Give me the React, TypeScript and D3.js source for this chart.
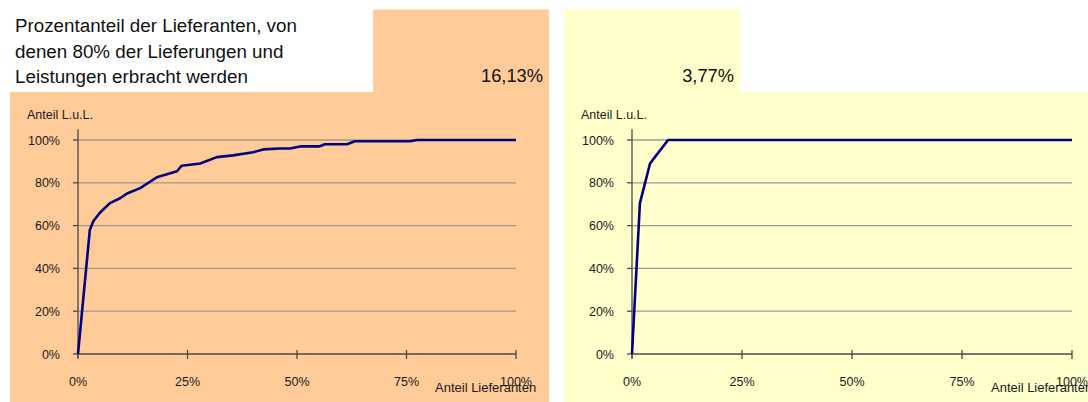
import * as d3 from "d3";

// Anteil Lieferanten (x) / Anteil L.u.L. (y)
const leftX = [0, 0.027, 0.035, 0.05, 0.073, 0.096, 0.112, 0.142, 0.18, 0.226, 0.237, 0.279, 0.317, 0.354, 0.4, 0.423, 0.46, 0.484, 0.507, 0.55, 0.564, 0.614, 0.632, 0.758, 0.774, 1.0];
const leftY = [0, 0.58, 0.62, 0.66, 0.705, 0.728, 0.75, 0.775, 0.826, 0.854, 0.88, 0.89, 0.92, 0.928, 0.943, 0.956, 0.96, 0.96, 0.97, 0.97, 0.98, 0.98, 0.994, 0.994, 1.0, 1.0];
const rightX = [0, 0.018, 0.041, 0.052, 0.082, 1.0];
const rightY = [0, 0.705, 0.89, 0.92, 1.0, 1.0];

const yTicks = [0, 0.2, 0.4, 0.6, 0.8, 1.0];
const xTicks = [0, 0.25, 0.5, 0.75, 1.0];

const titleLines = [
  "Prozentanteil der Lieferanten, von",
  "denen 80% der Lieferungen und",
  "Leistungen erbracht werden",
];
const shares = ["16,13%", "3,77%"];

const FONT = "'Liberation Sans', Arial, sans-serif";
const fmt = d3.format(".0%");

function Chart({ xs, ys, x0, x1 }: { xs: number[]; ys: number[]; x0: number; x1: number }) {
  const x = d3.scaleLinear().domain([0, 1]).range([x0, x1]);
  const y = d3.scaleLinear().domain([0, 1]).range([354, 140]);
  const pts: [number, number][] = xs.map((v, i) => [v, ys[i]]);
  const line = d3
    .line<[number, number]>()
    .x((d) => x(d[0]))
    .y((d) => y(d[1]));

  return (
    <g fontFamily={FONT}>
      {yTicks.slice(1).map((t) => (
        <line key={t} x1={x0} x2={x1} y1={y(t)} y2={y(t)} stroke="#9a9a9a" strokeWidth={1.3} />
      ))}
      {/* y axis */}
      <line x1={x0} x2={x0} y1={y(1.05)} y2={358} stroke="#4a4a4a" strokeWidth={1.3} />
      {yTicks.map((t) => (
        <g key={t}>
          <line x1={x0 - 5} x2={x0} y1={y(t)} y2={y(t)} stroke="#4a4a4a" strokeWidth={1.3} />
          <text x={x0 - 18} y={y(t) + 4.5} textAnchor="end" fontSize={12.5} fill="#1a1a1a">
            {fmt(t)}
          </text>
        </g>
      ))}
      {/* x axis */}
      <line x1={x0} x2={x1} y1={y(0)} y2={y(0)} stroke="#4a4a4a" strokeWidth={1.3} />
      {xTicks.map((t) => (
        <g key={t}>
          <line x1={x(t)} x2={x(t)} y1={y(0) - 4} y2={y(0) + 5} stroke="#4a4a4a" strokeWidth={1.3} />
          <text x={x(t)} y={386} textAnchor="middle" fontSize={12.5} fill="#1a1a1a">
            {fmt(t)}
          </text>
        </g>
      ))}
      <text x={x0 - 51} y={119} fontSize={12.5} fill="#1a1a1a">
        Anteil L.u.L.
      </text>
      <text x={x1 - 81} y={392} fontSize={13} fill="#1a1a1a">
        Anteil Lieferanten
      </text>
      <path d={line(pts) ?? ""} fill="none" stroke="#000080" strokeWidth={2.6} strokeLinejoin="round" />
    </g>
  );
}

export default function App() {
  return (
    <svg
      width={1088}
      height={402}
      style={{ position: "absolute", left: 0, top: 0, display: "block", background: "#fff" }}
    >
      {/* peach panel */}
      <rect x={373} y={9.5} width={176} height={84} fill="#FFCC99" />
      <rect x={10} y={92} width={539} height={310} fill="#FFCC99" />
      {/* yellow panel */}
      <rect x={564} y={9.5} width={176} height={84} fill="#FFFFCC" />
      <rect x={564} y={92} width={524} height={310} fill="#FFFFCC" />

      {titleLines.map((t, i) => (
        <text key={t} x={15} y={32 + i * 25.5} fontFamily={FONT} fontSize={18.8} fill="#111">
          {t}
        </text>
      ))}
      <text x={543} y={82} textAnchor="end" fontFamily={FONT} fontSize={18.3} fill="#111">
        {shares[0]}
      </text>
      <text x={734} y={82} textAnchor="end" fontFamily={FONT} fontSize={18.3} fill="#111">
        {shares[1]}
      </text>

      <Chart xs={leftX} ys={leftY} x0={78} x1={516} />
      <Chart xs={rightX} ys={rightY} x0={632} x1={1072} />
    </svg>
  );
}
